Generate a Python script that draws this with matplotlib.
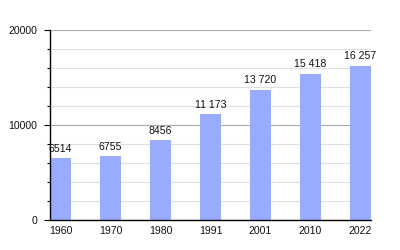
import matplotlib.pyplot as plt
from matplotlib.ticker import MultipleLocator

# --- data ---
years = ['1960', '1970', '1980', '1991', '2001', '2010', '2022']
population = [6514, 6755, 8456, 11173, 13720, 15418, 16257]
value_labels = ['6514', '6755', '8456', '11 173', '13 720', '15 418', '16 257']

plt.rcParams['font.family'] = ['Liberation Sans', 'DejaVu Sans']

fig = plt.figure(figsize=(4, 2.5), dpi=100)
ax = fig.add_axes([50 / 400, 30 / 250, 321 / 400, 190 / 250])

width = 0.42
pos = [i + width / 2 for i in range(len(years))]
ax.bar(pos, population, width=width, color='#99abfc', zorder=3)

for x, v, lab in zip(pos, population, value_labels):
    ax.annotate(lab, (x, v), xytext=(0, 3), textcoords='offset points',
                ha='center', va='bottom', fontsize=7.6, color='#111111')

ax.set_xlim(0, 6 + width)
ax.set_ylim(0, 20000)
ax.set_xticks(pos)
ax.set_xticklabels(years)
ax.yaxis.set_major_locator(MultipleLocator(10000))
ax.yaxis.set_minor_locator(MultipleLocator(2000))

ax.grid(which='major', axis='y', color='#aaaaaa', lw=0.8, zorder=0)
ax.grid(which='minor', axis='y', color='#e0e0e0', lw=0.8, zorder=0)

for s in ('top', 'right'):
    ax.spines[s].set_visible(False)
for s in ('left', 'bottom'):
    ax.spines[s].set_linewidth(1.0)
    ax.spines[s].set_zorder(4)

ax.tick_params(axis='x', length=0, pad=4, labelsize=7.6, labelcolor='#111111')
ax.tick_params(axis='y', which='major', length=4, width=0.8, labelsize=7.6,
               pad=5, labelcolor='#111111')
ax.tick_params(axis='y', which='minor', length=2, width=0.8)

fig.savefig('out.png', dpi=100)
